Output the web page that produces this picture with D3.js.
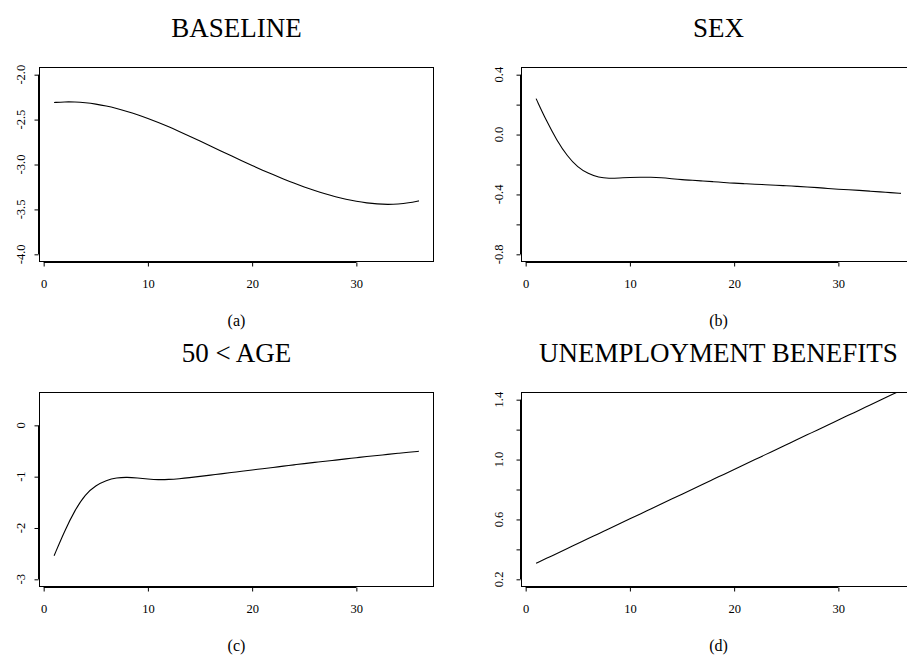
<!DOCTYPE html>
<html>
<head>
<meta charset="utf-8">
<script src="https://cdn.jsdelivr.net/npm/d3@7"></script>
<style>
  body { margin: 0; background: #fff; overflow: hidden; }
  text { font-family: "Liberation Serif", "Times New Roman", serif; fill: #000; }
</style>
</head>
<body>
<script>
// months since start of spell
const months = d3.range(1, 37)

const baseline = [-2.310, -2.302, -2.303, -2.312, -2.327, -2.348, -2.376, -2.408, -2.445, -2.487,
    -2.532, -2.580, -2.631, -2.684, -2.738, -2.793, -2.849, -2.904, -2.958, -3.011,
    -3.063, -3.113, -3.161, -3.207, -3.250, -3.290, -3.327, -3.360, -3.388, -3.411,
    -3.428, -3.440, -3.445, -3.441, -3.428, -3.405]

const sex = [0.24, 0.09, -0.04, -0.145, -0.22, -0.262, -0.287, -0.293, -0.29, -0.287,
    -0.285, -0.285, -0.288, -0.295, -0.302, -0.305, -0.31, -0.315, -0.32, -0.325,
    -0.328, -0.332, -0.335, -0.338, -0.342, -0.346, -0.35, -0.354, -0.36, -0.365,
    -0.369, -0.373, -0.378, -0.383, -0.388, -0.393]

const age50 = [-2.54, -2.06, -1.65, -1.34, -1.17, -1.07, -1.02, -1.01, -1.025, -1.045,
    -1.06, -1.055, -1.04, -1.02, -0.995, -0.97, -0.945, -0.92, -0.895, -0.87,
    -0.845, -0.82, -0.795, -0.77, -0.745, -0.722, -0.70, -0.677, -0.654, -0.631,
    -0.608, -0.587, -0.566, -0.545, -0.525, -0.505]

const benefits = [0.307, 0.340, 0.373, 0.406, 0.439, 0.472, 0.505, 0.538, 0.571, 0.604,
    0.637, 0.670, 0.703, 0.736, 0.769, 0.802, 0.835, 0.868, 0.901, 0.934,
    0.967, 1.000, 1.033, 1.066, 1.099, 1.132, 1.165, 1.198, 1.231, 1.264,
    1.297, 1.330, 1.363, 1.396, 1.429, 1.462]

const titles = ["BASELINE", "SEX", "50 < AGE", "UNEMPLOYMENT BENEFITS"]
const captions = ["(a)", "(b)", "(c)", "(d)"]
const yLimits = [[-4, -2], [-0.8, 0.4], [-3, 0.5], [0.2, 1.4]]
const yTicks = [
    [-4, -3.5, -3, -2.5, -2],
    [-0.8, -0.6, -0.4, -0.2, 0, 0.2, 0.4],
    [-3, -2, -1, 0],
    [0.2, 0.4, 0.6, 0.8, 1.0, 1.2, 1.4]
]
const yTickLabels = [
    ["-4.0", "-3.5", "-3.0", "-2.5", "-2.0"],
    ["-0.8", "", "-0.4", "", "0.0", "", "0.4"],
    ["-3", "-2", "-1", "0"],
    ["0.2", "", "0.6", "", "1.0", "", "1.4"]
]
const xTicks = [0, 10, 20, 30]
const series = [baseline, sex, age50, benefits]

const svg = d3.select("body")
    .append("svg")
    .attr("width", 907)
    .attr("height", 656)

const colLeft = [39.5, 521.5]
const rowTop = [67.5, 392.5]
const boxW = 394
const boxH = 194
const labelX = [25, 503]

series.forEach(function(vals, i) {
    const col = i % 2, row = Math.floor(i / 2)
    const L = colLeft[col], T = rowTop[row]
    const lim = yLimits[i]
    const pad = (lim[1] - lim[0]) * 0.04

    const x = d3.scaleLinear().domain([-0.4, 37.4]).range([L, L + boxW])
    const y = d3.scaleLinear().domain([lim[0] - pad, lim[1] + pad]).range([T + boxH, T])

    const g = svg.append("g")

    // title and caption
    g.append("text")
        .attr("x", L + boxW / 2)
        .attr("y", T - 31)
        .attr("text-anchor", "middle")
        .attr("font-size", "27px")
        .text(titles[i])
    g.append("text")
        .attr("x", L + boxW / 2)
        .attr("y", T + boxH + 64)
        .attr("text-anchor", "middle")
        .attr("font-size", "16px")
        .text(captions[i])

    // clipped curve
    g.append("clipPath")
        .attr("id", "clip" + i)
        .append("rect")
        .attr("x", L).attr("y", T)
        .attr("width", boxW).attr("height", boxH)

    const line = d3.line()
        .x(function(d, j) { return x(months[j]) })
        .y(function(d) { return y(d) })
        .curve(d3.curveBasis)

    g.append("path")
        .datum(vals)
        .attr("clip-path", "url(#clip" + i + ")")
        .attr("fill", "none")
        .attr("stroke", "#000")
        .attr("stroke-width", 1.1)
        .attr("d", line)

    // box
    g.append("rect")
        .attr("x", L).attr("y", T)
        .attr("width", boxW).attr("height", boxH)
        .attr("fill", "none")
        .attr("stroke", "#000")
        .attr("stroke-width", 1)

    // x axis
    const xAxis = d3.axisBottom(x)
        .tickValues(xTicks)
        .tickSize(4)
        .tickSizeOuter(0)
        .tickFormat(d3.format("d"))
    const gx = g.append("g")
        .attr("transform", "translate(0," + (T + boxH + 1) + ")")
        .call(xAxis)
    gx.select(".domain").remove()
    gx.append("line")
        .attr("x1", x(xTicks[0])).attr("x2", x(xTicks[xTicks.length - 1]))
        .attr("stroke", "#000")
    gx.selectAll(".tick text")
        .attr("y", 25)
        .attr("dy", 0)
        .attr("font-size", "12.5px")
        .attr("font-family", "Liberation Serif, Times New Roman, serif")

    // y axis
    const ticks = yTicks[i]
    const yAxis = d3.axisLeft(y)
        .tickValues(ticks)
        .tickSize(4)
        .tickSizeOuter(0)
        .tickFormat("")
    const gy = g.append("g")
        .attr("transform", "translate(" + (L - 1) + ",0)")
        .call(yAxis)
    gy.select(".domain").remove()
    gy.append("line")
        .attr("y1", y(ticks[0])).attr("y2", y(ticks[ticks.length - 1]))
        .attr("stroke", "#000")

    g.selectAll(".ylab")
        .data(ticks).enter()
        .append("text")
        .attr("class", "ylab")
        .attr("transform", function(d) { return "translate(" + labelX[col] + "," + y(d) + ") rotate(-90)" })
        .attr("text-anchor", "middle")
        .attr("font-size", "12.5px")
        .text(function(d, j) { return yTickLabels[i][j] })
})
</script>
</body>
</html>
